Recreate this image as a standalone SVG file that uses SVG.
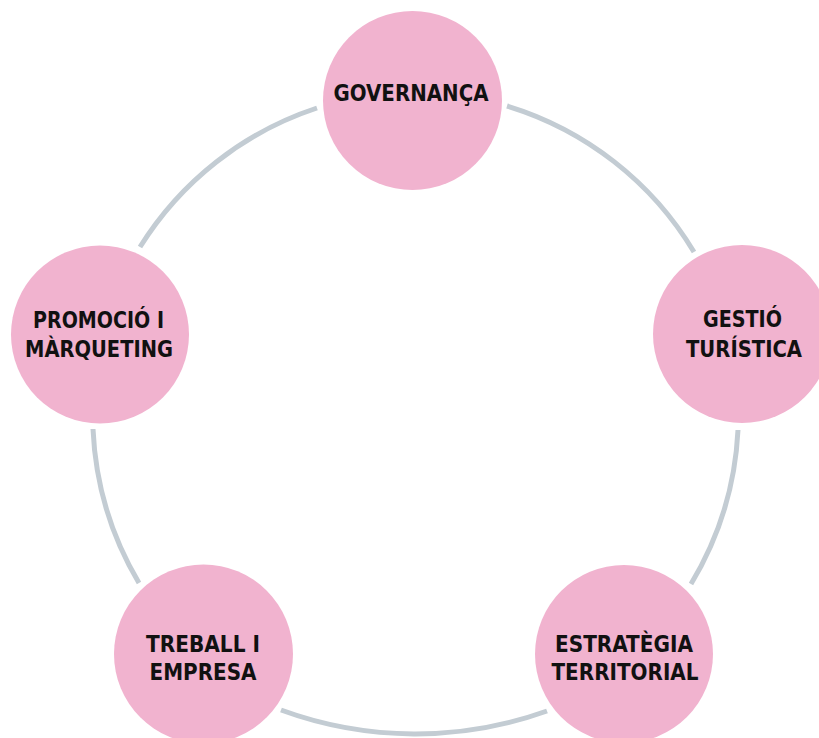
<svg xmlns="http://www.w3.org/2000/svg" width="819" height="738" viewBox="0 0 819 738">
<style>
.arc{fill:none;stroke:#c3ccd3;stroke-width:5}
.node{fill:#f1b3cf}
.lbl{font-family:"DejaVu Sans Condensed","DejaVu Sans","Liberation Sans",sans-serif;font-weight:bold;font-size:23px;fill:#111;text-anchor:middle}
</style>
<rect width="819" height="738" fill="#ffffff"/>
<g id="connectors">
<path class="arc" d="M507,106 A330,330 0 0 1 694,252"/>
<path class="arc" d="M738,430 A330,330 0 0 1 691,584"/>
<path class="arc" d="M547,711 A390,390 0 0 1 281,710"/>
<path class="arc" d="M139,583 A330,330 0 0 1 93,429"/>
<path class="arc" d="M140,247 A330,330 0 0 1 317,108"/>
</g>
<g id="governanca">
<circle class="node" cx="412.5" cy="100.5" r="89.5"/>
<text class="lbl" x="411" y="101" textLength="155" lengthAdjust="spacingAndGlyphs">GOVERNANÇA</text>
</g>
<g id="gestio-turistica">
<circle class="node" cx="742" cy="334" r="89"/>
<text class="lbl" x="742.5" y="327" textLength="79" lengthAdjust="spacingAndGlyphs">GESTIÓ</text>
<text class="lbl" x="744" y="357" textLength="116" lengthAdjust="spacingAndGlyphs">TURÍSTICA</text>
</g>
<g id="estrategia-territorial">
<circle class="node" cx="624" cy="654" r="89"/>
<text class="lbl" x="624" y="652" textLength="138" lengthAdjust="spacingAndGlyphs">ESTRATÈGIA</text>
<text class="lbl" x="625" y="680" textLength="147" lengthAdjust="spacingAndGlyphs">TERRITORIAL</text>
</g>
<g id="treball-empresa">
<circle class="node" cx="203.5" cy="654" r="89.5"/>
<text class="lbl" x="203" y="652" textLength="114" lengthAdjust="spacingAndGlyphs">TREBALL I</text>
<text class="lbl" x="203" y="680" textLength="107" lengthAdjust="spacingAndGlyphs">EMPRESA</text>
</g>
<g id="promocio-marqueting">
<circle class="node" cx="100" cy="334.5" r="89"/>
<text class="lbl" x="98.5" y="328" textLength="131" lengthAdjust="spacingAndGlyphs">PROMOCIÓ I</text>
<text class="lbl" x="99" y="357" textLength="148" lengthAdjust="spacingAndGlyphs">MÀRQUETING</text>
</g>
</svg>
